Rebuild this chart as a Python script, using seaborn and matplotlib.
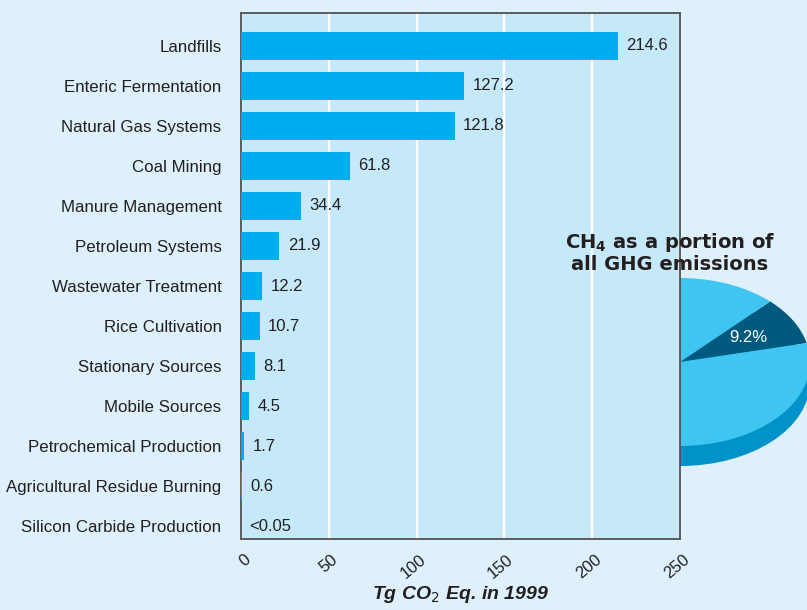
import numpy as np
import matplotlib
matplotlib.use("Agg")
import matplotlib.pyplot as plt
import matplotlib.transforms as mtransforms
import seaborn as sns
from matplotlib.patches import Ellipse, Rectangle

# ── Data
sources = ["Landfills", "Enteric Fermentation", "Natural Gas Systems", "Coal Mining",
           "Manure Management", "Petroleum Systems", "Wastewater Treatment",
           "Rice Cultivation", "Stationary Sources", "Mobile Sources",
           "Petrochemical Production", "Agricultural Residue Burning",
           "Silicon Carbide Production"]
emissions = [214.6, 127.2, 121.8, 61.8, 34.4, 21.9, 12.2, 10.7, 8.1, 4.5, 1.7, 0.6, 0.0]
value_text = ["214.6", "127.2", "121.8", "61.8", "34.4", "21.9", "12.2", "10.7",
              "8.1", "4.5", "1.7", "0.6", "<0.05"]
x_ticks = [0, 50, 100, 150, 200, 250]
pie_share = [9.2, 90.8]

# ── Style
sns.set_style("white")
plt.rcParams["font.family"] = ["Liberation Sans", "DejaVu Sans"]
plt.rcParams["mathtext.fontset"] = "custom"
plt.rcParams["mathtext.bf"] = "DejaVu Sans:bold"
plt.rcParams["mathtext.it"] = "Liberation Sans:bold:italic"

BG = "#ddf0fb"
PANEL = "#c6e9f9"
BAR = "#00aeef"
TXT = "#231f20"

fig = plt.figure(figsize=(8.07, 6.10), dpi=100, facecolor=BG)

# ── Pie (sits behind the bar panel)
W, H = 807, 610
cx, cy, rx, ry, depth = 680, 362, 130, 84, 20
pax = fig.add_axes([(cx - rx) / W, (H - cy - ry - depth) / H, 2 * rx / W, (2 * ry + depth) / H],
                   zorder=0)
d = depth / ry
pax.add_patch(Ellipse((0, -d), 2, 2, color="#0093c9", lw=0))
pax.add_patch(Rectangle((-1, -d), 2, d, color="#0093c9", lw=0))
wedges, _, autot = pax.pie(pie_share, colors=["#005a80", "#40c5f1"], startangle=13,
                           autopct=lambda p: f"{p:.1f}%" if p < 50 else "",
                           pctdistance=0.6, wedgeprops=dict(lw=0),
                           textprops=dict(color="white", fontsize=12))
pax.set_aspect("auto")
pax.set_xlim(-1, 1)
pax.set_ylim(-1 - d, 1)
pax.axis("off")

# ── Bars
ax = fig.add_axes([241 / W, (H - 539) / H, 439 / W, 526 / H], zorder=2)
ax.set_facecolor(PANEL)
sns.barplot(x=emissions, y=sources, color=BAR, width=0.72, saturation=1,
            orient="h", ax=ax, zorder=3, edgecolor="none", linewidth=0)
ax.bar_label(ax.containers[0], labels=value_text, padding=6, fontsize=12, color=TXT)

ax.set_xlim(0, 250)
ax.set_ylim(12.325, -0.825)
ax.tick_params(axis="x", length=0, pad=9)
ax.tick_params(axis="y", length=0, pad=14, labelsize=12.2, labelcolor=TXT)
ax.set_xticks(x_ticks)
ax.set_xticklabels([str(t) for t in x_ticks], rotation=40, ha="right", va="top",
                   fontsize=12, color=TXT)
shift = mtransforms.ScaledTranslation(12 / 100, 0, fig.dpi_scale_trans)
for lab in ax.get_xticklabels():
    lab.set_transform(lab.get_transform() + shift)
ax.grid(axis="x", color="white", lw=1.6, zorder=1)
ax.set_axisbelow(True)
for s in ax.spines.values():
    s.set_visible(True)
    s.set_color("#505050")
    s.set_linewidth(1.3)
ax.set_ylabel("")
ax.set_xlabel(r"Tg CO$_\mathit{2}$ Eq. in 1999", fontsize=14, fontweight="bold",
              fontstyle="italic", color=TXT, labelpad=2)

# ── Pie title (drawn over everything)
fig.text(670 / W, 1 - 243 / H, r"CH$_\mathbf{4}$ as a portion of", ha="center", va="center",
         fontsize=14, fontweight="bold", family="DejaVu Sans", color=TXT, zorder=5)
fig.text(670 / W, 1 - 265 / H, "all GHG emissions", ha="center", va="center",
         fontsize=14, fontweight="bold", family="DejaVu Sans", color=TXT, zorder=5)

fig.savefig("out.png", dpi=100, facecolor=BG)
